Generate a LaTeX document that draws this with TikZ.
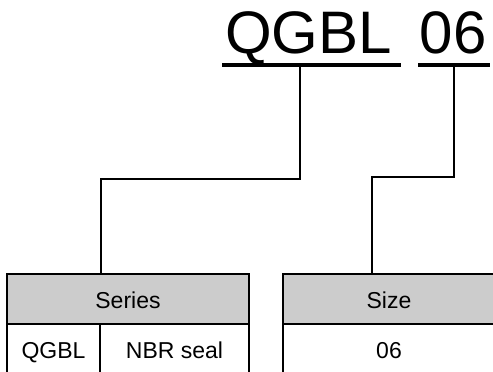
\documentclass[tikz,border=0pt]{standalone}
\usepackage{fontspec}
\setmainfont{Liberation Sans}
\definecolor{headgray}{HTML}{CCCCCC}
\begin{document}
\begin{tikzpicture}[x=1pt,y=-1pt,
  big/.style={font=\fontsize{60}{72}\selectfont, inner sep=0pt, anchor=base west},
  uline/.style={line width=4pt},
  conn/.style={line width=1.3pt},
  cell/.style={draw, line width=2.6pt, minimum height=50pt, inner sep=0pt,
    font=\fontsize{23}{27}\selectfont, text height=18pt, text depth=0pt},
  headcell/.style={cell, fill=headgray}]
\useasboundingbox (0,0) rectangle (493,372);
\clip (0,0) rectangle (493,372);
% title
\node[big] (code) at (225,53) {QGBL};
\node[big] (size) at (419.5,53) {06};
\draw[uline] (222,65) -- (401,65);
\draw[uline] (418,65) -- (490,65);
\coordinate (u1) at (300,65);
\coordinate (u2) at (454,65);
% tables
\node[headcell, minimum width=242pt] (series) at (128,299) {Series};
\node[cell, minimum width=93pt] (qgbl) at (53.5,349) {QGBL};
\node[cell, minimum width=149pt] (nbr) at (174.5,349) {NBR seal};
\node[headcell, minimum width=212pt] (sizehead) at (389,299) {Size};
\node[cell, minimum width=212pt] (sizeval) at (389,349) {06};
% connectors
\coordinate (k1) at (101,179);
\coordinate (a1) at (101,274);
\coordinate (k2) at (372,177);
\coordinate (a2) at (372,274);
\draw[conn] (u1) |- (k1) -- (a1);
\draw[conn] (u2) |- (k2) -- (a2);
\end{tikzpicture}
\end{document}
